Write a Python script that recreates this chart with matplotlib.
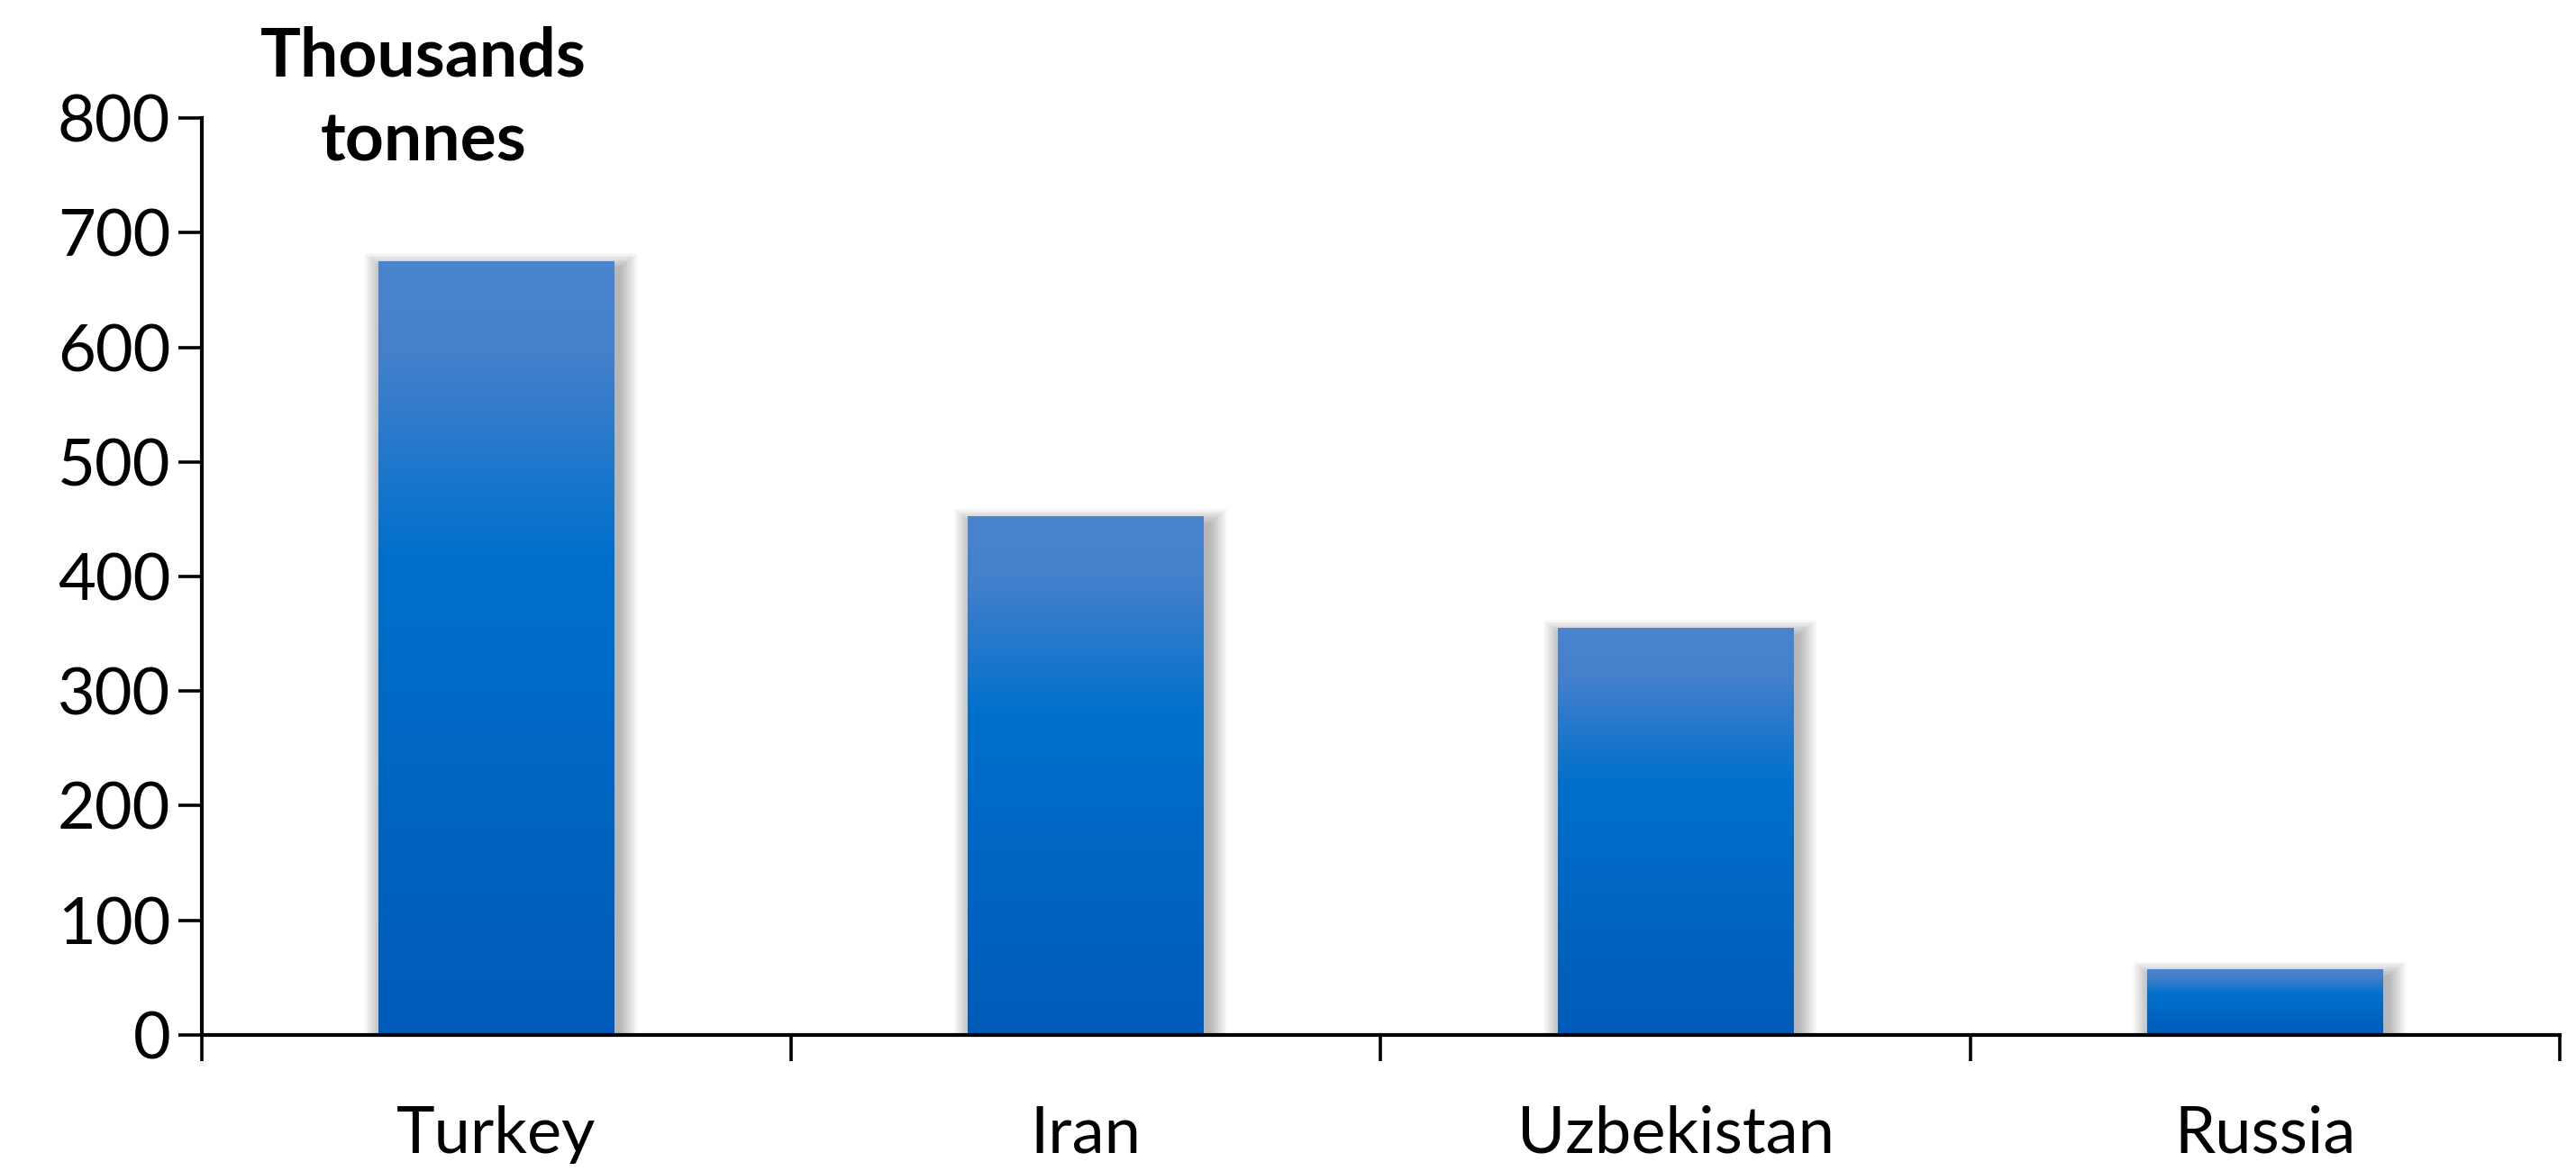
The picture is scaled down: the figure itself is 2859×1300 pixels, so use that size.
import numpy as np
import matplotlib
matplotlib.use('Agg')
import matplotlib.pyplot as plt
from matplotlib.colors import LinearSegmentedColormap
from matplotlib.patches import Rectangle

countries = ['Turkey', 'Iran', 'Uzbekistan', 'Russia']
production = [675, 452, 355, 57]
yticks = [0, 100, 200, 300, 400, 500, 600, 700, 800]

plt.rcParams['font.family'] = ['Lato', 'DejaVu Sans']

# Excel style vertical gradient, dark at bottom, light at top
grad = LinearSegmentedColormap.from_list('bar', [
  (0.0, '#005BB8'),
  (0.62, '#0070CC'),
  (0.88, '#4480CB'),
  (1.0, '#4A84CE'),
])

fig = plt.figure(figsize=(28.59, 13), dpi=100)
ax = fig.add_axes([0.0783, 0.1162, 0.9154, 0.7830])

width = 0.40
px_x = 4.0 / 2617
px_y = 800.0 / 1018
ramp = np.linspace(0, 1, 256).reshape(-1, 1)

for i, v in enumerate(production):
  x0 = i - width / 2
  # soft drop shadow
  for k in range(1, 14):
    pad_x = k * 1.6 * px_x
    pad_y = k * 1.3 * px_y
    ax.add_patch(Rectangle(
      (x0 - pad_x + 5 * px_x, -pad_y - 4 * px_y),
      width + 2 * pad_x, v + 2 * pad_y - 4 * px_y,
      facecolor='black', edgecolor='none', alpha=0.022, zorder=1
    ))
  ax.imshow(ramp, cmap=grad, origin='lower', aspect='auto',
            extent=(x0, x0 + width, 0, v), zorder=2, interpolation='bilinear')

ax.set_xlim(-0.5, len(countries) - 0.5)
ax.set_ylim(0, 800)
ax.set_aspect('auto')

for s in ['top', 'right']:
  ax.spines[s].set_visible(False)
for s in ['left', 'bottom']:
  ax.spines[s].set_linewidth(3.0)
  ax.spines[s].set_zorder(5)

ax.set_yticks(yticks)
ax.set_yticklabels([str(t) for t in yticks])
ax.tick_params(axis='y', direction='out', length=19, width=2.6, pad=6,
               labelsize=52)

ax.set_xticks(np.arange(len(countries) + 1) - 0.5)
ax.set_xticklabels([''] * (len(countries) + 1))
ax.tick_params(axis='x', which='major', direction='out', length=21, width=2.6)
ax.set_xticks(np.arange(len(countries)), minor=True)
ax.set_xticklabels(countries, minor=True)
ax.tick_params(axis='x', which='minor', length=0, pad=56, labelsize=52)

fig.text(470 / 2859, 1 - 110 / 1300, 'Thousands\ntonnes', ha='center', va='center',
         fontsize=54, fontweight='bold', linespacing=1.45, multialignment='center')

fig.savefig('out.png', dpi=100)
